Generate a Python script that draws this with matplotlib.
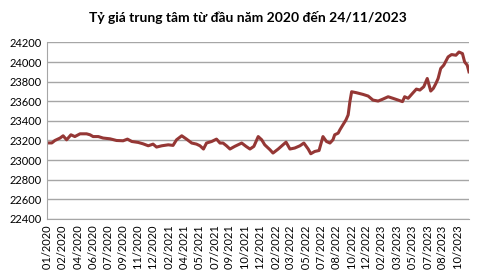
import matplotlib.pyplot as plt

# phien giao dich (chi so ngay) va ty gia trung tam doc tu hinh
sessions = [0, 11, 18, 30, 37, 45, 55, 64, 76, 91, 99, 106, 118, 129, 145, 160,
            175, 185, 195, 210, 221, 233, 244, 252, 264, 279, 290, 298, 310, 321,
            333, 344, 352, 360, 367, 379, 390, 398, 405, 413, 421, 432, 448, 458,
            467, 476, 486, 494, 501, 513, 520, 532, 543, 550, 559, 570, 582, 591,
            601, 607, 616, 626, 635, 643, 651, 658, 662, 670, 674, 681, 688, 693,
            697, 701, 712, 727, 739, 750, 762, 773, 785, 796, 808, 818, 823, 831,
            841, 850, 858, 867, 875, 883, 889, 895, 900, 906, 913, 923, 931, 941,
            948, 956, 961, 967, 971]
rate = [23175, 23175, 23200, 23225, 23248, 23207, 23258, 23240, 23268, 23268,
        23258, 23240, 23240, 23225, 23217, 23200, 23197, 23214, 23190, 23180,
        23166, 23146, 23163, 23133, 23146, 23156, 23150, 23207, 23248, 23214,
        23174, 23163, 23146, 23113, 23174, 23190, 23214, 23174, 23174, 23146,
        23113, 23140, 23174, 23140, 23113, 23140, 23240, 23207, 23156, 23106,
        23072, 23113, 23156, 23183, 23113, 23123, 23146, 23174, 23113, 23065,
        23088, 23098, 23240, 23190, 23174, 23207, 23258, 23275, 23309, 23360,
        23410, 23461, 23596, 23697, 23687, 23670, 23653, 23612, 23602, 23622,
        23646, 23630, 23612, 23596, 23646, 23630, 23680, 23724, 23714, 23748,
        23832, 23704, 23731, 23782, 23832, 23934, 23968, 24052, 24076, 24069,
        24102, 24086, 24001, 23968, 23900]

tick_labels = ['02/01/2020', '24/02/2020', '10/04/2020', '01/06/2020', '20/07/2020',
               '08/09/2020', '02/11/2020', '21/12/2020', '19/02/2021', '12/04/2021',
               '31/05/2021', '19/07/2021', '07/09/2021', '26/10/2021', '14/12/2021',
               '11/02/2022', '31/03/2022', '23/05/2022', '11/07/2022', '29/08/2022',
               '18/10/2022', '06/12/2022', '08/02/2023', '29/03/2023', '22/05/2023',
               '10/07/2023', '28/08/2023', '17/10/2023']
tick_step = 35

plt.rcParams['font.family'] = ['Lato', 'DejaVu Sans']

fig = plt.figure(figsize=(4.8, 2.7), dpi=100)
ax = fig.add_axes([0.098, 0.189, 0.879, 0.654])

ax.plot(sessions, rate, color='#953735', lw=2.2, solid_joinstyle='round')

ax.set_xlim(0, sessions[-1])
ax.set_ylim(22400, 24200)
ax.set_yticks(range(22400, 24201, 200))
ax.set_xticks([i * tick_step for i in range(len(tick_labels))])
ax.set_xticklabels(tick_labels, rotation=90, fontsize=8)
ax.tick_params(axis='y', labelsize=8, length=0, pad=4)
ax.tick_params(axis='x', length=0, pad=4)
ax.grid(axis='y', color='#a6a6a6', lw=1)
ax.set_axisbelow(True)
for s in ['top', 'right']:
    ax.spines[s].set_visible(False)
ax.spines['left'].set_color('#a6a6a6')
ax.spines['bottom'].set_color('#a6a6a6')

fig.text(0.517, 0.935, 'Tỷ giá trung tâm từ đầu năm 2020 đến 24/11/2023',
         ha='center', va='center', fontsize=10, fontweight='bold')

fig.savefig('out.png', dpi=100)
